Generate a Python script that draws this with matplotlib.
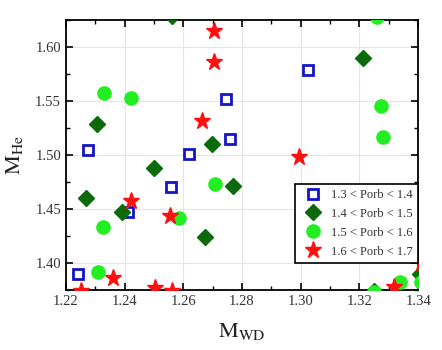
import matplotlib.pyplot as plt
from matplotlib.ticker import MultipleLocator

plt.rcParams['font.family'] = ['Liberation Serif', 'DejaVu Serif']
plt.rcParams['mathtext.fontset'] = 'stix'

# 1.3 < Porb < 1.4
sq_x = [1.2274, 1.2618, 1.2747, 1.2758, 1.3026, 1.2240, 1.2410, 1.2558]
sq_y = [1.5046, 1.5010, 1.5519, 1.5145, 1.5790, 1.3900, 1.4472, 1.4704]
# 1.4 < Porb < 1.5
dm_x = [1.2305, 1.2501, 1.2698, 1.3212, 1.2268, 1.2390, 1.2675, 1.2770, 1.3250, 1.3405, 1.2560]
dm_y = [1.5284, 1.4877, 1.5102, 1.5900, 1.4599, 1.4475, 1.4244, 1.4713, 1.3740, 1.3900, 1.6290]
# 1.5 < Porb < 1.6
ci_x = [1.2330, 1.2422, 1.3274, 1.3282, 1.2325, 1.2587, 1.2707, 1.2310, 1.3339, 1.3248, 1.3260, 1.3410]
ci_y = [1.5577, 1.5525, 1.5454, 1.5170, 1.4333, 1.4420, 1.4731, 1.3920, 1.3827, 1.3730, 1.6275, 1.3830]
# 1.6 < Porb < 1.7
st_x = [1.2703, 1.2706, 1.2664, 1.2993, 1.2423, 1.2554, 1.2360, 1.2253, 1.2505, 1.2560, 1.3317, 1.3410]
st_y = [1.6150, 1.5864, 1.5315, 1.4979, 1.4577, 1.4433, 1.3858, 1.3740, 1.3770, 1.3740, 1.3780, 1.4000]

fig = plt.figure(figsize=(4.42, 3.5), dpi=100)
ax = fig.add_axes([0.149, 0.171, 0.797, 0.772])

ax.plot(sq_x, sq_y, 's', ms=7.5, mfc='white', mec='#1414c8', mew=2, ls='none', label='1.3 < Porb < 1.4', zorder=3)
ax.plot(dm_x, dm_y, 'D', ms=8.5, color='#0b6b0b', ls='none', label='1.4 < Porb < 1.5', zorder=3)
ax.plot(ci_x, ci_y, 'o', ms=9.5, color='#22ee22', ls='none', label='1.5 < Porb < 1.6', zorder=3)
ax.plot(st_x, st_y, '*', ms=12.5, color='#ff1010', ls='none', label='1.6 < Porb < 1.7', zorder=3)

ax.set_xlim(1.22, 1.34)
ax.set_ylim(1.375, 1.625)
ax.xaxis.set_major_locator(MultipleLocator(0.02))
ax.xaxis.set_minor_locator(MultipleLocator(0.01))
ax.yaxis.set_major_locator(MultipleLocator(0.05))
ax.yaxis.set_minor_locator(MultipleLocator(0.025))
ax.xaxis.set_major_formatter(plt.FormatStrFormatter('%.2f'))
ax.yaxis.set_major_formatter(plt.FormatStrFormatter('%.2f'))
ax.tick_params(which='both', direction='in', top=True, right=True, labelsize=10.5, labelcolor='#333333')
ax.tick_params(which='major', length=5, width=1.2)
ax.tick_params(which='minor', length=3, width=1.0)
ax.grid(True, color='#e6e6e6', lw=0.8)
ax.set_axisbelow(True)
for s in ax.spines.values():
    s.set_linewidth(1.3)

ax.set_xlabel(r'$\mathrm{M_{WD}}$', fontsize=16, labelpad=9, color='#222222')
ax.set_ylabel(r'$\mathrm{M_{He}}$', fontsize=16, labelpad=7, color='#222222')

leg = ax.legend(loc='upper right', bbox_to_anchor=(1.0, 0.393), fontsize=9,
                frameon=True, fancybox=False, edgecolor='black', framealpha=1,
                borderpad=0.4, labelspacing=0.55, handletextpad=0.5, borderaxespad=0)
leg.get_frame().set_linewidth(1.2)
for t in leg.get_texts():
    t.set_color('#333333')

fig.savefig('out.png', dpi=100)
